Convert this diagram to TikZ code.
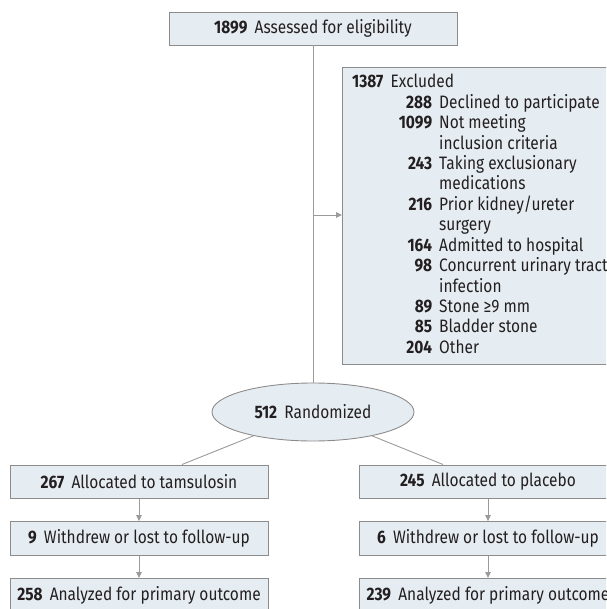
\documentclass[tikz,border=0pt]{standalone}
\usepackage{fontspec}
\setmainfont{Fira Sans}[FakeStretch=0.86]
\usepackage{array}
\usetikzlibrary{arrows.meta,shapes.geometric}
\definecolor{boxfill}{HTML}{E6EDF2}
\definecolor{edgegray}{HTML}{8C8C8C}
\definecolor{linegray}{HTML}{9B9B9B}
\definecolor{ink}{HTML}{231F20}
\newcommand{\nbr}[1]{\textbf{#1}\hspace{0.4em}}
\begin{document}
\begin{tikzpicture}[x=1pt,y=-1pt,
  txt/.style={text=ink, font=\fontsize{18}{20.4}\selectfont},
  box/.style={txt, draw=edgegray, fill=boxfill, line width=0.9pt, inner sep=0pt},
  flowbox/.style={box, minimum width=258pt, minimum height=33.5pt},
  conn/.style={draw=linegray, line width=0.9pt},
  arr/.style={conn, -{Triangle[length=6pt,width=5.5pt]}}]
\clip (0,0) rectangle (606,609);
\node[box, minimum width=288pt, minimum height=33pt] (elig) at (313,28.5) {\nbr{1899}Assessed for eligibility};
\node[box, anchor=north west, minimum width=280pt, minimum height=297pt] (excl) at (342,67) {};
\node[txt, anchor=north west, inner sep=0pt] (excltext) at (352,73.4) {%
\begin{tabular}{@{}>{\raggedleft\arraybackslash}p{80pt}@{\hspace{7pt}}l@{}}
\multicolumn{2}{@{}l@{}}{\nbr{1387}Excluded}\\
\textbf{288} & Declined to participate\\
\textbf{1099} & Not meeting\\
 & inclusion criteria\\
\textbf{243} & Taking exclusionary\\
 & medications\\
\textbf{216} & Prior kidney/ureter\\
 & surgery\\
\textbf{164} & Admitted to hospital\\
\textbf{98} & Concurrent urinary tract\\
 & infection\\
\textbf{89} & Stone ≥9 mm\\
\textbf{85} & Bladder stone\\
\textbf{204} & Other
\end{tabular}};
\node[box, ellipse, minimum width=202pt, minimum height=58pt] (rand) at (313,412) {\nbr{512}Randomized};
\node[flowbox] (alloc1) at (139,481.7) {\nbr{267}Allocated to tamsulosin};
\node[flowbox] (alloc2) at (488,481.7) {\nbr{245}Allocated to placebo};
\node[flowbox] (lost1) at (139,538.3) {\nbr{9}Withdrew or lost to follow-up};
\node[flowbox] (lost2) at (488,538.3) {\nbr{6}Withdrew or lost to follow-up};
\node[flowbox] (anal1) at (139,595.2) {\nbr{258}Analyzed for primary outcome};
\node[flowbox] (anal2) at (488,595.2) {\nbr{239}Analyzed for primary outcome};
\draw[conn] (elig) -- (rand);
\coordinate (j) at (313,215);
\draw[arr] (j) -- (j -| excl.west);
\draw[conn] (rand) -- ([xshift=43pt]alloc1.north);
\draw[conn] (rand) -- ([xshift=-45pt]alloc2.north);
\draw[arr] (alloc1) -- (lost1);
\draw[arr] (alloc2) -- (lost2);
\draw[arr] (lost1) -- (anal1);
\draw[arr] (lost2) -- (anal2);
\end{tikzpicture}
\end{document}
